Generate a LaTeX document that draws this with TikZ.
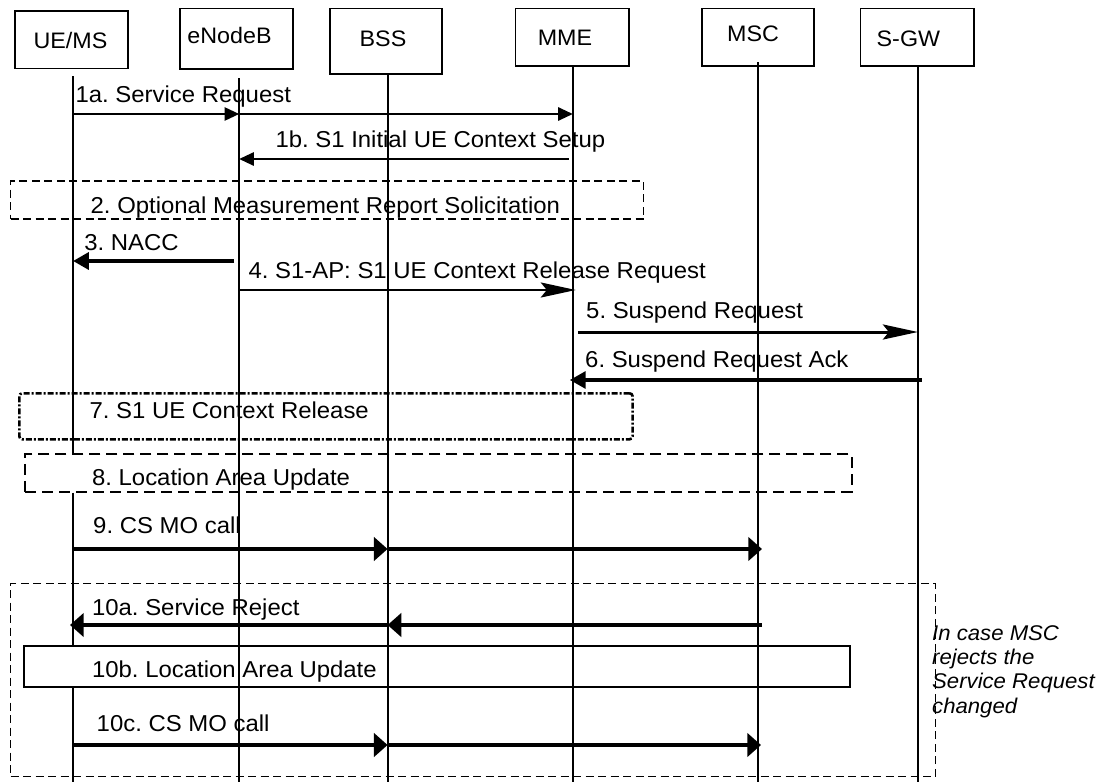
\documentclass[tikz,border=0pt]{standalone}
\usepackage{fontspec}
\setmainfont{Liberation Sans}[FakeStretch=1.04]
\usetikzlibrary{arrows.meta}
\begin{document}
\frenchspacing
\begin{tikzpicture}[x=1pt,y=-1pt,
  hdr/.style={draw, line width=1.6pt, inner sep=0pt},
  htxt/.style={anchor=base, inner sep=0pt, font=\fontsize{22.4}{27}\selectfont},
  lbl/.style={anchor=base west, inner sep=0pt, font=\fontsize{23}{27}\selectfont},
  note/.style={anchor=base west, inner sep=0pt, font=\fontsize{21.3}{24}\selectfont\itshape},
  life/.style={line width=1.8pt},
  thinmsg/.style={line width=2pt, -{Triangle[length=14.7pt,width=13.3pt]}},
  longmsg/.style={line width=2.4pt, -{Stealth[length=35pt,width=15pt,inset=6pt]}},
  midmsg/.style={line width=3.6pt, -{Triangle[length=15.8pt,width=16.7pt]}},
  thickmsg/.style={line width=4.6pt, -{Triangle[length=13.7pt,width=23.3pt]}},
  boxa/.style={draw, inner sep=0pt, line width=1.3pt, dash pattern=on 8pt off 4.5pt},
  boxb/.style={draw, inner sep=0pt, line width=2.6pt, rounded corners=3pt, dash pattern=on 6pt off 2pt on 2pt off 2pt},
  boxc/.style={draw, inner sep=0pt, line width=2pt, dash pattern=on 11pt off 6pt},
  boxd/.style={draw, inner sep=0pt, line width=2pt}
]
\useasboundingbox (0,0) rectangle (1101,782);

% header boxes
\node[hdr, minimum width=113.3pt, minimum height=57.6pt] (ue)  at (71.35,39.5) {};
\node[hdr, minimum width=113pt,   minimum height=60.7pt] (enb) at (236.5,38.7) {};
\node[hdr, minimum width=112pt,   minimum height=65.7pt] (bss) at (386,41.2)   {};
\node[hdr, minimum width=113.4pt, minimum height=57.4pt] (mme) at (572.3,37)   {};
\node[hdr, minimum width=112.4pt, minimum height=57.4pt] (msc) at (758,37)     {};
\node[hdr, minimum width=113.5pt, minimum height=57.4pt] (sgw) at (917.4,37)   {};
\node[htxt] (tue)  at (70.5,48.3)  {UE/MS};
\node[htxt] (tenb) at (229.5,43.3) {eNodeB};
\node[htxt] (tbss) at (383,46)     {BSS};
\node[htxt] (tmme) at (565,45)     {MME};
\node[htxt] (tmsc) at (753,41.7)   {MSC};
\node[htxt] (tsgw) at (908.4,46.7) {S-GW};

% lifeline tops
\coordinate (lue)  at (73,76);
\coordinate (lenb) at (239.2,78);
\coordinate (lbss) at (387.6,74);
\coordinate (lmme) at (572.8,66);
\coordinate (lmsc) at (758,62);
\coordinate (lsgw) at (917.9,66);

% frames
\node[boxa, minimum width=633pt, minimum height=38pt]  (b2)   at (327,200)     {};
\node[boxb, minimum width=613.3pt, minimum height=46pt] (b7)  at (325.95,416.3) {};
\node[boxc, minimum width=826.2pt, minimum height=37.7pt] (b8) at (438.4,472.85) {};
\node[boxa, minimum width=924.9pt, minimum height=193.4pt] (b10) at (472.95,680) {};
\node[boxd, minimum width=826.5pt, minimum height=41.3pt] (b10b) at (437.15,666.65) {};

% lifelines
\draw[life] (lue) -- (lue |- b8.north);
\draw[life] (lue |- b8.south) -- (lue |- b10b.north);
\draw[life] (lue |- b10b.south) -- (lue |- 0,782);
\draw[life] (lenb) -- (lenb |- 0,782);
\draw[life] (lbss) -- (lbss |- 0,782);
\draw[life] (lmme) -- (lmme |- 0,782);
\draw[life] (lmsc) -- (lmsc |- 0,782);
\draw[life] (lsgw) -- (lsgw |- 0,782);

% messages
\draw[thinmsg] (lue |- 0,114) -- (lenb |- 0,114);
\draw[thinmsg] (lenb |- 0,114) -- (lmme |- 0,114);
\node[lbl] (t1a) at (75.4,102) {1a. Service Request};

\draw[thinmsg, shorten <=4pt] (lmme |- 0,159) -- (lenb |- 0,159);
\node[lbl] (t1b) at (275.3,147) {1b. S1 Initial UE Context Setup};

\node[lbl] (t2) at (90.5,213) {2. Optional Measurement Report Solicitation};

\draw[midmsg, line width=4.6pt, shorten <=5pt] (lenb |- 0,261) -- (lue |- 0,261);
\node[lbl] (t3) at (84.2,250) {3. NACC};

\draw[longmsg, shorten >=-3pt] (lenb |- 0,290) -- (lmme |- 0,290);
\node[lbl] (t4) at (248.3,278) {4. S1-AP: S1 UE Context Release Request};

\draw[longmsg, line width=3pt, shorten <=5pt] (lmme |- 0,332) -- (lsgw |- 0,332);
\node[lbl] (t5) at (586,318) {5. Suspend Request};

\draw[midmsg, shorten <=-4pt, shorten >=-3pt] (lsgw |- 0,380) -- (lmme |- 0,380);
\node[lbl] (t6) at (585,367) {6. Suspend Request Ack};

\node[lbl] (t7) at (89.4,418.3) {7. S1 UE Context Release};
\node[lbl] (t8) at (91.9,485) {8. Location Area Update};

\draw[thickmsg] (lue |- 0,549) -- (lbss |- 0,549);
\draw[thickmsg, shorten >=-4pt] (lbss |- 0,549) -- (lmsc |- 0,549);
\node[lbl] (t9) at (93,533.3) {9. CS MO call};

\draw[thickmsg, shorten <=-4pt] (lmsc |- 0,625) -- (lbss |- 0,625);
\draw[thickmsg, shorten >=-3pt] (lbss |- 0,625) -- (lue |- 0,625);
\node[lbl] (t10a) at (91.9,615) {10a. Service Reject};

\node[lbl] (t10b) at (91.9,677.3) {10b. Location Area Update};

\draw[thickmsg] (lue |- 0,745) -- (lbss |- 0,745);
\draw[thickmsg, shorten >=-3pt] (lbss |- 0,745) -- (lmsc |- 0,745);
\node[lbl] (t10c) at (96.5,731.7) {10c. CS MO call};

% note
\node[note] (n1) at (932,640) {In case MSC};
\node[note] (n2) at (932,664) {rejects the};
\node[note] (n3) at (932,688.5) {Service Request};
\node[note] (n4) at (932,713) {changed};
\end{tikzpicture}
\end{document}
